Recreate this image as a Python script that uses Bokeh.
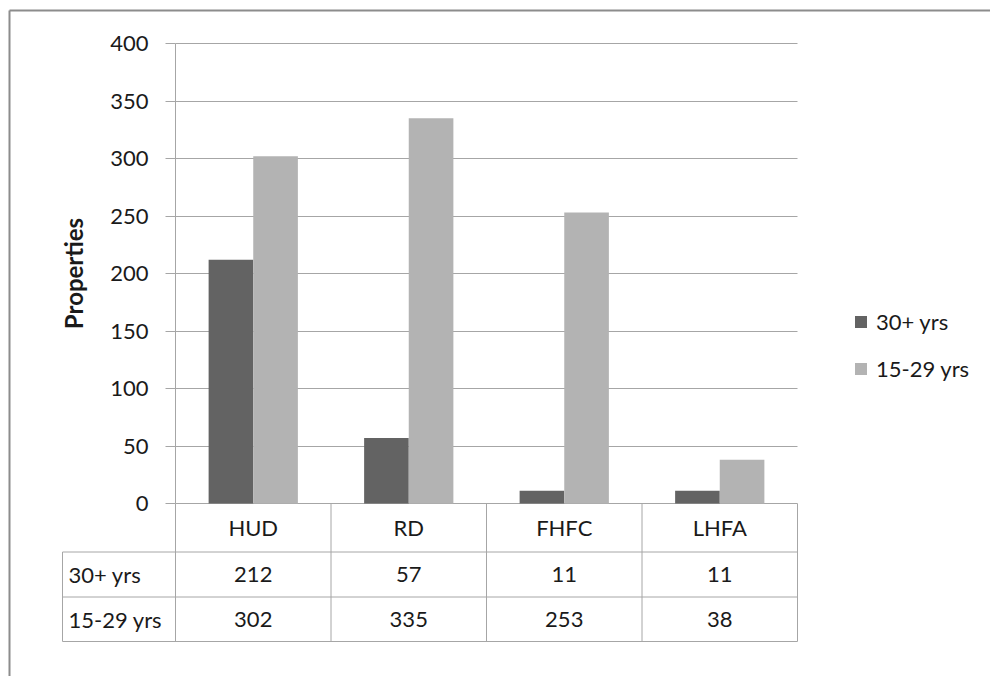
from bokeh.plotting import figure
from bokeh.models import Range1d, FixedTicker, Legend, LegendItem, ColumnDataSource
from bokeh.core.properties import value
from bokeh.embed import file_html
from bokeh.resources import INLINE

# ---- data ----
categories = ["HUD", "RD", "FHFC", "LHFA"]
series_names = ["30+ yrs", "15-29 yrs"]
values_30plus = [212, 57, 11, 11]
values_15_29 = [302, 335, 253, 38]
y_ticks = [0, 50, 100, 150, 200, 250, 300, 350, 400]

# ---- style ----
FONT = "Lato"
FS = "22px"
DARK = "#636363"
LIGHT = "#b3b3b3"
LINE = "#a6a6a6"
TXT = "#1a1a1a"

W, H = 990, 676
n = len(categories)

# layout geometry (canvas pixels -> axis units)
X0_PX, COL_PX = 175.0, 155.5     # x=0 position, width of one category column
Y0_PX, UNIT_PX = 503.0, 1.15     # y=0 position, pixels per unit


def xu(px):
    return (px - X0_PX) / COL_PX


def yu(px):
    return (Y0_PX - px) / UNIT_PX


label_left = xu(62)
row_edges = [0, yu(551.5), yu(596.5), yu(641)]

p = figure(width=W, height=H, output_backend="svg", toolbar_location=None,
           x_range=Range1d(xu(0), xu(W)), y_range=Range1d(yu(H), yu(0)),
           min_border_left=0, min_border_right=0, min_border_top=0,
           min_border_bottom=0)
p.outline_line_color = None
p.background_fill_color = "white"
p.border_fill_color = "white"

p.xaxis.visible = False
p.xgrid.visible = False

ax = p.yaxis[0]
ax.fixed_location = 0
ax.bounds = (0, 400)
ax.ticker = FixedTicker(ticks=y_ticks)
ax.minor_tick_line_color = None
ax.major_tick_out = 10
ax.major_tick_in = 0
ax.axis_line_color = LINE
ax.major_tick_line_color = LINE
ax.major_label_text_font = FONT
ax.major_label_text_font_size = FS
ax.major_label_text_color = TXT
ax.major_label_standoff = 17
ax.axis_label = "Properties"
ax.axis_label_text_font = FONT
ax.axis_label_text_font_style = "bold"
ax.axis_label_text_font_size = "24px"
ax.axis_label_text_color = TXT
ax.axis_label_standoff = 19

p.ygrid.ticker = FixedTicker(ticks=y_ticks)
p.ygrid.grid_line_color = LINE
p.ygrid.cross_bounds = (0, n)

# ---- outer chart border (top and left edges visible) ----
p.segment(x0=[xu(9), xu(9)], x1=[xu(W), xu(9)], y0=[yu(10), yu(10)], y1=[yu(10), yu(H)],
          line_color="#8c8c8c", line_width=2)

# ---- bars ----
off = 0.1435
bw = 0.287
idx = list(range(n))
src = ColumnDataSource(dict(
    x_dark=[i + 0.5 - off for i in idx],
    x_light=[i + 0.5 + off for i in idx],
    v1=values_30plus, v2=values_15_29,
))
r1 = p.vbar(x="x_dark", top="v1", width=bw, source=src, fill_color=DARK, line_color=None)
r2 = p.vbar(x="x_light", top="v2", width=bw, source=src, fill_color=LIGHT, line_color=None)

# ---- data table ----
hy = row_edges[1:]
p.segment(x0=[label_left] * len(hy), x1=[n] * len(hy), y0=hy, y1=hy,
          line_color=LINE, line_width=1)
vx = [float(i) for i in range(n + 1)]
p.segment(x0=vx, x1=vx, y0=[row_edges[0]] * len(vx), y1=[row_edges[-1]] * len(vx),
          line_color=LINE, line_width=1)
p.segment(x0=[label_left], x1=[label_left], y0=[row_edges[1]], y1=[row_edges[-1]],
          line_color=LINE, line_width=1)

mid = [(row_edges[k] + row_edges[k + 1]) / 2 for k in range(3)]
centers = [i + 0.5 for i in idx]
common = dict(text_font=value(FONT), text_font_size=value(FS), text_color=TXT,
              text_baseline="middle")
p.text(x=centers, y=[mid[0]] * n, text=categories, text_align="center", **common)
p.text(x=centers, y=[mid[1]] * n, text=[str(v) for v in values_30plus],
       text_align="center", **common)
p.text(x=centers, y=[mid[2]] * n, text=[str(v) for v in values_15_29],
       text_align="center", **common)
p.text(x=[xu(68)] * 2, y=[mid[1], mid[2]], text=series_names, text_align="left", **common)

# ---- legend ----
legend = Legend(items=[LegendItem(label=series_names[0], renderers=[r1]),
                       LegendItem(label=series_names[1], renderers=[r2])],
                location=(853, 294), margin=0, padding=0, spacing=20,
                glyph_width=15, glyph_height=15, label_standoff=8,
                label_text_font=FONT, label_text_font_size=FS, label_text_color=TXT,
                border_line_color=None, background_fill_alpha=0)
p.add_layout(legend, "center")

open("out.html", "w").write(file_html(p, INLINE))
